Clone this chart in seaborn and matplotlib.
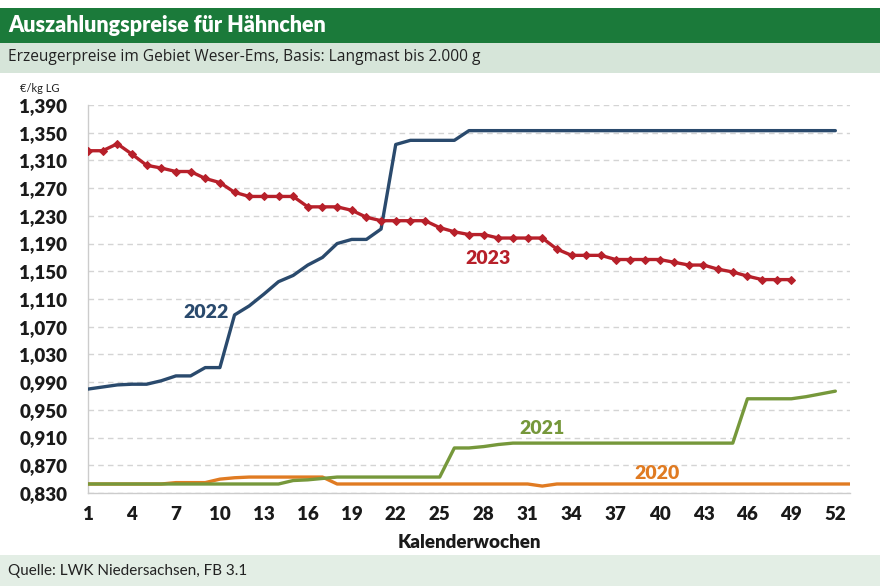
import matplotlib
matplotlib.use("Agg")
import matplotlib.pyplot as plt
from matplotlib.patches import Rectangle
import seaborn as sns
import pandas as pd

# ---------------- data ----------------
weeks_2020 = list(range(1, 54))
weeks_2021 = list(range(1, 53))
weeks_2022 = list(range(1, 53))
weeks_2023 = list(range(1, 50))

price_2020 = ([0.843] * 6 + [0.845] * 3 + [0.850, 0.852] + [0.853] * 6 +
              [0.843] * 14 + [0.840] + [0.843] * 21)
price_2021 = ([0.843] * 14 + [0.848, 0.849, 0.851] + [0.853] * 8 +
              [0.895, 0.895, 0.897, 0.900] + [0.902] * 16 +
              [0.966] * 4 + [0.969, 0.973, 0.977])
price_2022 = ([0.980, 0.983, 0.986, 0.987, 0.987, 0.992, 0.999, 0.999, 1.011, 1.011,
               1.087, 1.100, 1.117, 1.135, 1.144, 1.159, 1.170, 1.190, 1.196, 1.196,
               1.211, 1.333] + [1.339] * 4 + [1.353] * 26)
price_2023 = ([1.324, 1.324, 1.334, 1.319, 1.303, 1.299, 1.294, 1.294, 1.284, 1.278, 1.264] +
              [1.258] * 4 + [1.243] * 3 + [1.238, 1.228] + [1.223] * 4 +
              [1.213, 1.207, 1.203, 1.203] + [1.198] * 4 + [1.182] + [1.173] * 3 +
              [1.167] * 4 + [1.163, 1.159, 1.159, 1.153, 1.149, 1.143] + [1.138] * 3)

y_ticks = [0.830, 0.870, 0.910, 0.950, 0.990, 1.030, 1.070, 1.110, 1.150,
           1.190, 1.230, 1.270, 1.310, 1.350, 1.390]
x_ticks = [1, 4, 7, 10, 13, 16, 19, 22, 25, 28, 31, 34, 37, 40, 43, 46, 49, 52]

title = "Auszahlungspreise für Hähnchen"
subtitle = "Erzeugerpreise im Gebiet Weser-Ems, Basis: Langmast bis 2.000 g"
source = "Quelle: LWK Niedersachsen, FB 3.1"
unit = "€/kg LG"
xlabel = "Kalenderwochen"

colors = {"2020": "#e07b22", "2021": "#76983b", "2022": "#2a4a6d", "2023": "#b7202a"}

df = pd.concat([
    pd.DataFrame({"Woche": weeks_2020, "Preis": price_2020, "Jahr": "2020"}),
    pd.DataFrame({"Woche": weeks_2021, "Preis": price_2021, "Jahr": "2021"}),
    pd.DataFrame({"Woche": weeks_2022, "Preis": price_2022, "Jahr": "2022"}),
    pd.DataFrame({"Woche": weeks_2023, "Preis": price_2023, "Jahr": "2023"}),
], ignore_index=True)

# ---------------- style ----------------
sns.set_theme(style="white")
plt.rcParams["font.family"] = ["Lato", "DejaVu Sans"]

W, H = 880, 586
fig = plt.figure(figsize=(W / 100, H / 100), dpi=100)
fig.patch.set_facecolor("white")

def fy(px):
    return 1 - px / H

# bands
fig.add_artist(Rectangle((0, fy(43)), 1, 35 / H, transform=fig.transFigure,
                         facecolor="#1b7a3a", edgecolor="none", zorder=0))
fig.add_artist(Rectangle((0, fy(73)), 1, 30 / H, transform=fig.transFigure,
                         facecolor="#d6e5d9", edgecolor="none", zorder=0))
fig.add_artist(Rectangle((0, 0), 1, 31 / H, transform=fig.transFigure,
                         facecolor="#e3eee5", edgecolor="none", zorder=0))

fig.text(8 / W, fy(25), title, color="white", fontsize=15.5, fontweight="heavy",
         ha="left", va="center")
fig.text(8 / W, fy(57), subtitle, color="#222222", fontsize=11.2,
         ha="left", va="center", family=["Open Sans", "DejaVu Sans"])
fig.text(8 / W, fy(571), source, color="#222222", fontsize=11,
         ha="left", va="center")
fig.text(20 / W, fy(88), unit, color="#222222", fontsize=8,
         ha="left", va="center")

ax = fig.add_axes([88 / W, fy(493), (850 - 88) / W, (493 - 105) / H])

for yr in ["2020", "2021", "2022"]:
    sns.lineplot(data=df[df["Jahr"] == yr], x="Woche", y="Preis", ax=ax,
                 color=colors[yr], linewidth=2.4, legend=False, zorder=3)
sns.lineplot(data=df[df["Jahr"] == "2023"], x="Woche", y="Preis", ax=ax,
             color=colors["2023"], linewidth=2.4, marker="D", markersize=4.5,
             markeredgecolor=colors["2023"], legend=False, zorder=4)

ax.set_xlim(1, 53)
ax.set_ylim(0.830, 1.390)
ax.set_yticks(y_ticks)
ax.set_yticklabels([f"{v:.3f}".replace(".", ",") for v in y_ticks])
ax.set_xticks(x_ticks)
ax.set_xticklabels([str(t) for t in x_ticks])
ax.yaxis.grid(True, color="#d4d4d4", linestyle=(0, (4, 3)), linewidth=1.0)
ax.xaxis.grid(False)
ax.set_axisbelow(True)

for s in ["top", "right"]:
    ax.spines[s].set_visible(False)
for s in ["left", "bottom"]:
    ax.spines[s].set_color("#cccccc")
    ax.spines[s].set_linewidth(1.0)

ax.tick_params(axis="y", length=0, pad=15, labelsize=13.5, labelcolor="#1a1a1a")
ax.tick_params(axis="x", length=5, width=1, color="#cccccc", pad=4,
               labelsize=13.5, labelcolor="#1a1a1a", direction="out")
for lab in ax.get_yticklabels() + ax.get_xticklabels():
    lab.set_fontweight("heavy")

ax.set_xlabel(xlabel, fontsize=13.5, fontweight="heavy", color="#1a1a1a", labelpad=8)
ax.set_ylabel("")

# series labels
ax.text(9.05, 1.090, "2022", color=colors["2022"], fontsize=14, fontweight="heavy",
        ha="center", va="center")
ax.text(28.27, 1.169, "2023", color=colors["2023"], fontsize=14, fontweight="heavy",
        ha="center", va="center")
ax.text(31.97, 0.9234, "2021", color=colors["2021"], fontsize=14, fontweight="heavy",
        ha="center", va="center")
ax.text(39.8, 0.8584, "2020", color=colors["2020"], fontsize=14, fontweight="heavy",
        ha="center", va="center")

fig.savefig("out.png", dpi=100, facecolor="white")
